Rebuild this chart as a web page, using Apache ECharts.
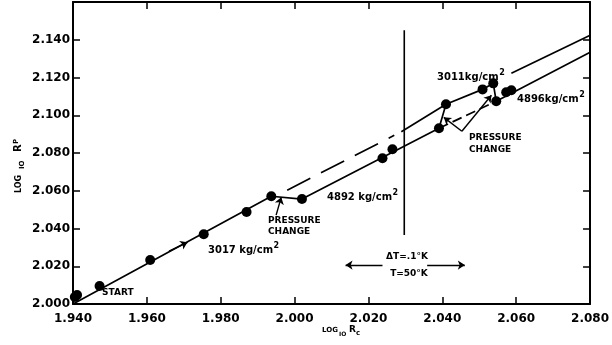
<!DOCTYPE html>
<html><head><meta charset="utf-8">
<script src="https://cdn.jsdelivr.net/npm/echarts@6/dist/echarts.min.js"></script>
<style>html,body{margin:0;padding:0;background:#fff}#c{width:612px;height:345px}</style>
</head><body><div id="c"></div>
<script>
// ---- data ----
const xTickLabels = ['1.940','1.960','1.980','2.000','2.020','2.040','2.060','2.080'];
const yTickLabels = ['2.000','2.020','2.040','2.060','2.080','2.100','2.120','2.140'];
// measured points (log10 Rc, log10 Rp)
const pointsX = [1.9405,1.9411,1.9472,1.9609,1.9754,1.9870,1.9937,2.0020,2.0238,2.0265,2.0391,2.0410,2.0509,2.0538,2.0546,2.0573,2.0587];
const pointsY = [2.0037,2.0048,2.0095,2.0233,2.0370,2.0487,2.0571,2.0556,2.0772,2.0820,2.0931,2.1058,2.1137,2.1169,2.1074,2.1122,2.1132];
// experimental trace (solid)
const traceX = [1.9400,1.9937,2.0020,2.0391,2.0410,2.0509,2.0538,2.0546,2.0799];
const traceY = [2.0000,2.0571,2.0556,2.0931,2.1058,2.1137,2.1169,2.1074,2.1333];
// lower line, dashed portion
const lowerDashX = [2.0391,2.0546];
const lowerDashY = [2.0931,2.1074];
// upper line, dashed and solid portions
const upperDashX = [1.9980,2.0270];
const upperDashY = [2.0603,2.0894];
const upperSolidAX = [2.0289,2.0410];
const upperSolidAY = [2.0913,2.1058];
const upperSolidBX = [2.0587,2.0799];
const upperSolidBY = [2.1222,2.1423];
// vertical boundary
const boundaryX = [2.0297,2.0297];
const boundaryY = [2.0365,2.1450];

const zip = (a,b) => a.map((v,i)=>[v,b[i]]);
const INK = '#000';
const FONT = 'DejaVu Sans';

function lineSeries(xs, ys, type, width){
  return {type:'line', data: zip(xs,ys), symbol:'none', silent:true, animation:false,
    lineStyle:{color:INK, width: width||1.7, type: type||'solid', opacity:1}, z:3};
}

const chart = echarts.init(document.getElementById('c'), null, {renderer:'canvas'});
const axisCommon = {
  axisLine:{show:true, onZero:false, lineStyle:{color:INK, width:2}},
  axisTick:{show:true, inside:true, length:7, lineStyle:{color:INK, width:1.5}},
  splitLine:{show:false}, interval:0.02
};
const option = {
  animation:false,
  backgroundColor:'#fff',
  grid:{left:73, right:17, top:2, bottom:41, containLabel:false},
  xAxis:[
    Object.assign({}, axisCommon, {type:'value', position:'bottom', min:1.94, max:2.08,
      axisLabel:{margin:9, color:INK, fontFamily:FONT, fontWeight:'bold', fontSize:12,
        formatter:(v)=>{const i=Math.round((v-1.94)/0.02); return xTickLabels[i]||'';}}}),
    Object.assign({}, axisCommon, {type:'value', position:'top', min:1.94, max:2.08,
      axisLabel:{show:false}})
  ],
  yAxis:[
    Object.assign({}, axisCommon, {type:'value', position:'left', min:2.0, max:2.16,
      axisLabel:{margin:3, color:INK, fontFamily:FONT, fontWeight:'bold', fontSize:12,
        formatter:(v)=>{const i=Math.round((v-2.0)/0.02); return yTickLabels[i]||'';}}}),
    Object.assign({}, axisCommon, {type:'value', position:'right', min:2.0, max:2.16,
      axisLabel:{show:false}})
  ],
  series:[
    lineSeries(traceX, traceY),
    lineSeries(lowerDashX, lowerDashY, [10,5]),
    lineSeries(upperDashX, upperDashY, [26,12]),
    lineSeries(upperSolidAX, upperSolidAY),
    lineSeries(upperSolidBX, upperSolidBY),
    lineSeries(boundaryX, boundaryY, 'solid', 1.6),
    {type:'scatter', data: zip(pointsX, pointsY), symbol:'circle', symbolSize:10,
      itemStyle:{color:INK, opacity:1}, silent:true, animation:false, z:4},
    {type:'lines', coordinateSystem:'cartesian2d', polyline:false, silent:true, animation:false,
      symbol:['none','arrow'], symbolSize:7, lineStyle:{color:INK, width:1.4, opacity:1}, z:5,
      data:[
        {coords:[[1.9660,2.0280],[1.9710,2.0327]]},
        {coords:[[1.9950,2.0471],[1.9964,2.0566]]},
        {coords:[[2.0453,2.0915],[2.0404,2.0989]]},
        {coords:[[2.0453,2.0915],[2.0533,2.1106]]},
        {coords:[[2.0238,2.0206],[2.0138,2.0206]]},
        {coords:[[2.0359,2.0206],[2.0461,2.0206]]}
      ]}
  ]
};
chart.setOption(option);

const mctx = document.createElement('canvas').getContext('2d');
function measure(s, font){ mctx.font = font; return mctx.measureText(s).width; }

function txt(x, y, s, size, align, extra){
  return Object.assign({type:'text', x:x, y:y, silent:true, z:10,
    style:{text:s, fill:INK, font:'bold '+size+'px "'+FONT+'"', align:align||'left', verticalAlign:'middle'}}, extra||{});
}
function kg(x, y, s){
  const f = 'bold 10px "'+FONT+'"';
  const w = measure(s, f);
  return [txt(x, y, s, 10), txt(x + w + 0.5, y - 4, '2', 8)];
}
const sub = (x, y, s, size, extra) => txt(x, y, s, size, 'left', extra);
chart.setOption({graphic:[
  txt(102, 293, 'START', 9),
  ...kg(208, 250, '3017 kg/cm'),
  txt(268, 221, 'PRESSURE', 9),
  txt(268, 232, 'CHANGE', 9),
  ...kg(327, 197, '4892 kg/cm'),
  ...kg(437, 77, '3011kg/cm'),
  ...kg(517, 99, '4896kg/cm'),
  txt(469, 138, 'PRESSURE', 9),
  txt(469, 150, 'CHANGE', 9),
  txt(407, 257, 'ΔT=.1°K', 9, 'center'),
  txt(409, 274, 'T=50°K', 9, 'center'),
  // x-axis title: LOG10 Rc
  sub(322, 330, 'LOG', 7),
  sub(339, 334, 'IO', 6),
  sub(349, 330, 'R', 9),
  sub(356, 333, 'c', 7),
  // y-axis title: LOG10 Rp (rotated)
  {type:'group', x:19, y:163, rotation:Math.PI/2, silent:true, children:[
    sub(-30, 0, 'LOG', 8),
    sub(-6, 3, 'IO', 7),
    sub(11, -1, 'R', 10),
    sub(19, -3, 'P', 7)
  ]}
]});
</script>
</body></html>
